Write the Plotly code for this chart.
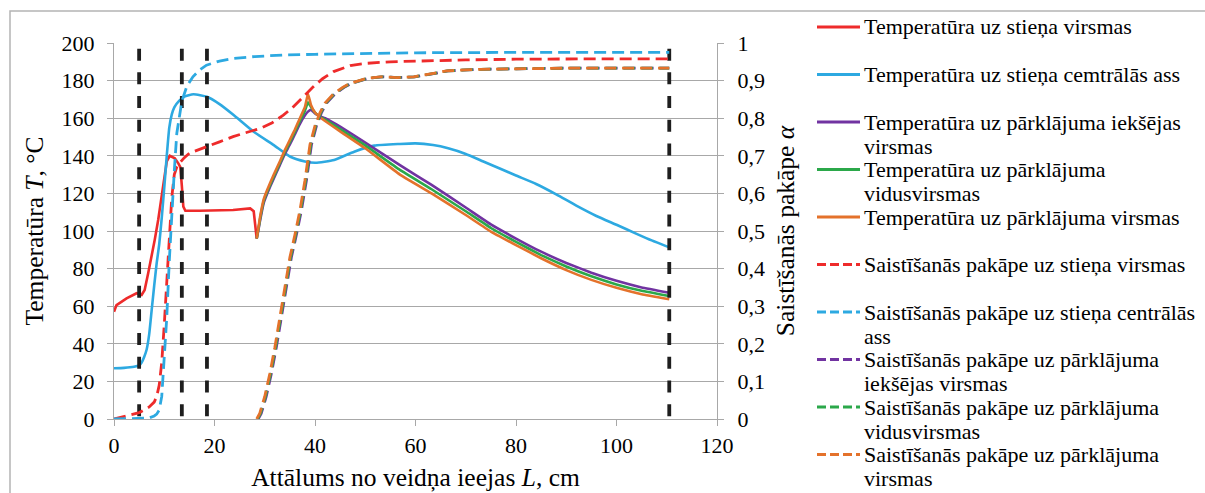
import plotly.graph_objects as go

# ---------------- data ----------------
# Temperature at rod surface (red solid)
x_T_surf = [0, 0.5, 2.5, 4.5, 5.5, 6.1, 6.8, 7.5, 8.1, 8.8, 9.4, 10.0, 10.5, 11.1, 12.1, 12.8, 13.2, 13.5, 13.8, 14.2, 17.0, 23.7, 27.1, 27.8, 28.2, 28.4]
T_surf = [57, 60.6, 64.2, 66.9, 66.0, 68.6, 77.5, 86.3, 95.2, 106, 118, 130, 137, 140, 138.7, 136, 134, 124, 113, 110.8, 110.8, 111.2, 112, 110.5, 102, 96]

# Temperature at rod centre axis (blue solid)
x_T_cent = [0, 2, 4, 5, 5.5, 6, 6.5, 7, 7.5, 8, 8.5, 9, 9.5, 10, 10.5, 11, 11.5, 12, 13, 14, 15.8, 18.5, 21, 23.8, 27.8, 31.8, 35.1, 38, 40.1, 43.8, 47.8, 51.8, 56.9, 60, 63.5, 66.5, 70, 73.5, 77, 80, 84, 88, 92, 96, 100, 104, 107, 110.5]
T_cent = [27, 27.2, 27.8, 28.5, 30, 33, 37, 45, 58, 71, 83, 93, 107, 123, 140, 155, 162, 165.8, 169.3, 171.5, 172.7, 171.4, 167.5, 161.7, 152.8, 145.7, 139.5, 137, 136.3, 137.8, 142.2, 145.4, 146.3, 146.6, 145.7, 144, 141, 137, 133, 129.5, 125, 119.5, 113.5, 108, 103.3, 98.5, 95, 91.3]

# Coating temperatures (purple / green / orange solid)
x_T_coat = [28.4, 28.7, 29.1, 29.8, 30.5, 31.8, 33, 34, 35, 36, 37, 38, 38.6, 39.2, 40, 41, 42, 45, 50, 56.9, 63.2, 70, 75, 80, 85, 90, 95, 100, 105, 110.5]
T_coat_inner = [96, 100, 106, 115, 120, 128, 135, 141, 146, 151.5, 157, 161.5, 163.5, 164.5, 162.5, 161, 160, 155.5, 147, 135, 124.5, 112.5, 103.5, 96, 89, 83, 77.8, 73.5, 70, 67.2]
T_coat_mid = [96, 100.5, 107, 116, 121, 129, 136, 142, 147.3, 152.8, 158.5, 164, 168.5, 166, 163, 160.8, 159.2, 154.2, 145.5, 132.5, 122.2, 110.5, 101.6, 94.2, 87.2, 81.1, 75.9, 71.6, 68.2, 65.4]
T_coat_outer = [96, 101, 108, 117, 122, 130, 137, 143, 148.5, 154, 160, 166, 173, 167, 163, 160.5, 158.5, 153, 144, 130, 120, 108.5, 99.7, 92.5, 85.5, 79.2, 74, 69.8, 66.4, 63.7]

# Degree of cure at rod surface (red dashed)
x_a_surf = [0, 1, 2, 3, 4, 5, 6, 7, 8, 8.5, 9, 9.5, 10, 10.5, 11, 11.5, 12, 12.5, 13, 14, 15, 16.5, 18.4, 21, 23.7, 26.5, 29.1, 31.5, 33.7, 35.5, 37, 38.5, 39.7, 41.5, 43.7, 47, 50.3, 55, 60, 70, 80, 90, 100, 110.5]
a_surf = [0, 0.003, 0.006, 0.01, 0.013, 0.017, 0.024, 0.032, 0.045, 0.06, 0.09, 0.15, 0.25, 0.36, 0.48, 0.59, 0.65, 0.67, 0.68, 0.695, 0.707, 0.715, 0.724, 0.737, 0.751, 0.763, 0.773, 0.788, 0.808, 0.828, 0.848, 0.868, 0.884, 0.905, 0.924, 0.94, 0.946, 0.95, 0.952, 0.955, 0.957, 0.958, 0.958, 0.958]

# Degree of cure at rod centre axis (blue dashed)
x_a_cent = [0, 2, 4, 5, 6, 7, 7.5, 8, 8.5, 9, 9.5, 10, 10.5, 11, 11.5, 12, 12.5, 13, 13.5, 14.5, 15.7, 17, 18.4, 21, 23.7, 28, 33.7, 40, 50.3, 60, 80, 110.5]
a_cent = [0, 0, 0, 0.001, 0.002, 0.003, 0.005, 0.008, 0.013, 0.024, 0.06, 0.16, 0.27, 0.42, 0.55, 0.66, 0.76, 0.81, 0.845, 0.885, 0.91, 0.928, 0.941, 0.952, 0.959, 0.964, 0.968, 0.97, 0.973, 0.974, 0.975, 0.975]

# Degree of cure in coating (purple / green / orange dashed)
x_a_coat_inner = [28.7, 29.3, 30.3, 31.3, 32.3, 33.3, 34.3, 35.3, 36.3, 37.3, 38.3, 39.3, 40.3, 41.3, 42.3, 44.0, 45.8, 47.3, 50.6, 53.3, 56.6, 59.9, 63.3, 66.5, 73.1, 80, 90, 100, 110.5]
x_a_coat_mid = [28.55, 29.15, 30.15, 31.15, 32.15, 33.15, 34.15, 35.15, 36.15, 37.15, 38.15, 39.15, 40.15, 41.15, 42.15, 43.85, 45.65, 47.15, 50.45, 53.15, 56.45, 59.75, 63.15, 66.35, 72.95, 80, 90, 100, 110.5]
x_a_coat_outer = [28.4, 29, 30, 31, 32, 33, 34, 35, 36, 37, 38, 39, 40, 41, 42, 43.7, 45.5, 47, 50.3, 53, 56.3, 59.6, 63, 66.2, 72.8, 80, 90, 100, 110.5]
a_coat = [0, 0.015, 0.06, 0.12, 0.19, 0.27, 0.35, 0.43, 0.49, 0.555, 0.635, 0.73, 0.78, 0.815, 0.84, 0.865, 0.882, 0.893, 0.906, 0.91, 0.908, 0.91, 0.918, 0.926, 0.93, 0.932, 0.933, 0.933, 0.933]

# Zone boundaries (black dashed verticals)
boundary_x = [5, 13.5, 18.5, 110.5]
boundary_T = [197, 0]

x_ticks = [0, 20, 40, 60, 80, 100, 120]

names = [
    "Temperatūra uz stieņa virsmas",
    "Temperatūra uz stieņa cemtrālās ass",
    "Temperatūra uz pārklājuma iekšējas virsmas",
    "Temperatūra uz pārklājuma vidusvirsmas",
    "Temperatūra uz pārklājuma virsmas",
    "Saistīšanās pakāpe uz stieņa virsmas",
    "Saistīšanās pakāpe uz stieņa centrālās ass",
    "Saistīšanās pakāpe uz pārklājuma iekšējas virsmas",
    "Saistīšanās pakāpe uz pārklājuma vidusvirsmas",
    "Saistīšanās pakāpe uz pārklājuma virsmas",
]
# legend text lines (wrapped as in the original)
legend_lines = [
    ["Temperatūra uz stieņa virsmas"],
    ["Temperatūra uz stieņa cemtrālās ass"],
    ["Temperatūra uz pārklājuma iekšējas", "virsmas"],
    ["Temperatūra uz pārklājuma", "vidusvirsmas"],
    ["Temperatūra uz pārklājuma virsmas"],
    ["Saistīšanās pakāpe uz stieņa virsmas"],
    ["Saistīšanās pakāpe uz stieņa centrālās", "ass"],
    ["Saistīšanās pakāpe uz pārklājuma", "iekšējas virsmas"],
    ["Saistīšanās pakāpe uz pārklājuma", "vidusvirsmas"],
    ["Saistīšanās pakāpe uz pārklājuma", "virsmas"],
]

RED = "#EE2B2B"
BLUE = "#2DA9E1"
PURPLE = "#7133A1"
GREEN = "#2BA84A"
ORANGE = "#E4722B"
colors = [RED, BLUE, PURPLE, GREEN, ORANGE, RED, BLUE, PURPLE, GREEN, ORANGE]

FONT = "Liberation Serif, Times New Roman, serif"
GRID = "#A8A8A8"

# ---------------- geometry ----------------
W, H = 1205, 493
ML, MR, MT, MB = 114, 488, 43, 74
PW, PH = W - ML - MR, H - MT - MB


def px_x(px):
    return (px - ML) / PW


def px_y(py):
    return (H - MB - py) / PH


fig = go.Figure()

SOLID_W = 2.6
DASH_W = 2.8
DASH = "12px,6px"

fig.add_trace(go.Scatter(x=x_T_surf, y=T_surf, mode="lines", name=names[0],
                         line=dict(color=RED, width=SOLID_W), yaxis="y"))
fig.add_trace(go.Scatter(x=x_T_cent, y=T_cent, mode="lines", name=names[1],
                         line=dict(color=BLUE, width=SOLID_W, shape="spline", smoothing=0.5), yaxis="y"))
fig.add_trace(go.Scatter(x=x_T_coat, y=T_coat_inner, mode="lines", name=names[2],
                         line=dict(color=PURPLE, width=SOLID_W, shape="spline", smoothing=0.3), yaxis="y"))
fig.add_trace(go.Scatter(x=x_T_coat, y=T_coat_mid, mode="lines", name=names[3],
                         line=dict(color=GREEN, width=SOLID_W, shape="spline", smoothing=0.3), yaxis="y"))
fig.add_trace(go.Scatter(x=x_T_coat, y=T_coat_outer, mode="lines", name=names[4],
                         line=dict(color=ORANGE, width=SOLID_W, shape="spline", smoothing=0.3), yaxis="y"))

for bx in boundary_x:
    fig.add_trace(go.Scatter(x=[bx, bx], y=boundary_T, mode="lines", showlegend=False,
                             hoverinfo="skip",
                             line=dict(color="#1E1E1E", width=3.8, dash="12px,11.7px"), yaxis="y"))

fig.add_trace(go.Scatter(x=x_a_surf, y=a_surf, mode="lines", name=names[5],
                         line=dict(color=RED, width=DASH_W, dash=DASH), yaxis="y2"))
fig.add_trace(go.Scatter(x=x_a_cent, y=a_cent, mode="lines", name=names[6],
                         line=dict(color=BLUE, width=DASH_W, dash=DASH), yaxis="y2"))
fig.add_trace(go.Scatter(x=x_a_coat_inner, y=a_coat, mode="lines", name=names[7],
                         line=dict(color=PURPLE, width=DASH_W, dash=DASH), yaxis="y2"))
fig.add_trace(go.Scatter(x=x_a_coat_mid, y=a_coat, mode="lines", name=names[8],
                         line=dict(color=GREEN, width=DASH_W, dash=DASH), yaxis="y2"))
fig.add_trace(go.Scatter(x=x_a_coat_outer, y=a_coat, mode="lines", name=names[9],
                         line=dict(color=ORANGE, width=DASH_W, dash=DASH), yaxis="y2"))

# ---------------- manual legend (matches the original's fixed slots) ----------------
slot_y = [27 + 47.5 * i for i in range(10)]
LINE2_DY = 24
shapes = []
annotations = []
for i, (lines, col, sy) in enumerate(zip(legend_lines, colors, slot_y)):
    shapes.append(dict(type="line", xref="paper", yref="paper",
                       x0=px_x(817), x1=px_x(860), y0=px_y(sy), y1=px_y(sy),
                       line=dict(color=col, width=3, dash=None if i < 5 else "9px,4px")))
    for k, txt in enumerate(lines):
        annotations.append(dict(text=txt, xref="paper", yref="paper",
                                x=px_x(862), y=px_y(sy + LINE2_DY * k), xanchor="left", yanchor="middle",
                                showarrow=False, font=dict(family=FONT, size=22, color="#000000")))

# outer chart border
shapes.append(dict(type="rect", xref="paper", yref="paper", layer="below",
                   x0=px_x(10), x1=px_x(1215), y0=px_y(11), y1=px_y(505),
                   line=dict(color="#B4B4B4", width=1.5), fillcolor="rgba(0,0,0,0)"))

fig.update_layout(
    width=W, height=H,
    margin=dict(l=ML, r=MR, t=MT, b=MB, autoexpand=False),
    paper_bgcolor="white", plot_bgcolor="white",
    showlegend=False,
    separators=", ",
    font=dict(family=FONT, size=22, color="#000000"),
    shapes=shapes,
    annotations=annotations,
    xaxis=dict(range=[0, 120], tickvals=x_ticks, showgrid=False, zeroline=False,
               showline=True, linecolor=GRID, linewidth=1.3,
               ticks="outside", ticklen=6, tickcolor=GRID, tickwidth=1.3,
               tickfont=dict(family=FONT, size=22),
               title=dict(text="Attālums no veidņa ieejas <i>L</i>, cm", standoff=11,
                          font=dict(family=FONT, size=25.5))),
    yaxis=dict(range=[0, 200], dtick=20, showgrid=True, gridcolor=GRID, gridwidth=1.3,
               zeroline=False, showline=True, linecolor=GRID, linewidth=1.3,
               ticks="outside", ticklen=6, tickcolor=GRID, tickwidth=1.3,
               tickfont=dict(family=FONT, size=22), ticklabelstandoff=8,
               title=dict(text="Temperatūra <i>T</i>, °C", standoff=10,
                          font=dict(family=FONT, size=25.5))),
    yaxis2=dict(range=[0, 1], dtick=0.1, overlaying="y", side="right", showgrid=False,
                zeroline=False, showline=True, linecolor=GRID, linewidth=1.3,
                ticks="outside", ticklen=6, tickcolor=GRID, tickwidth=1.3,
                tickfont=dict(family=FONT, size=22), ticklabelstandoff=9,
                title=dict(text="Saistīšanās pakāpe <i>α</i>", standoff=12,
                           font=dict(family=FONT, size=25.5))),
)

fig.write_html("out.html")
